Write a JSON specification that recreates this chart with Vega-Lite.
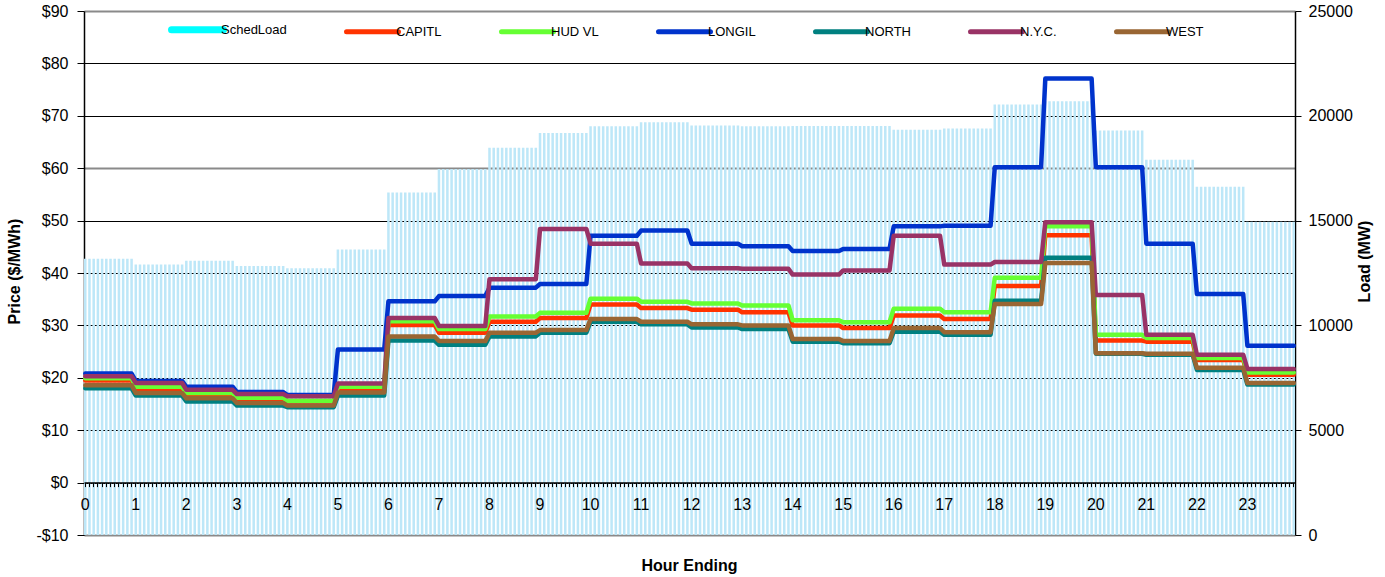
{
"$schema": "https://vega.github.io/schema/vega-lite/v6.json",
"width": 1211,
"height": 524,
"autosize": {"type": "none"},
"padding": {"left": 84, "top": 11, "right": 90, "bottom": 42},
"background": "white",
"config": {"font": "Liberation Sans", "view": {"stroke": null}},
"datasets": {
"load": [
{"t":0,"load":13180},{"t":1,"load":13180},{"t":2,"load":13180},{"t":3,"load":13180},{"t":4,"load":13180},{"t":5,"load":13180},{"t":6,"load":13180},{"t":7,"load":13180},{"t":8,"load":13180},{"t":9,"load":13180},{"t":10,"load":13180},{"t":11,"load":13180},
{"t":12,"load":12910},{"t":13,"load":12910},{"t":14,"load":12910},{"t":15,"load":12910},{"t":16,"load":12910},{"t":17,"load":12910},{"t":18,"load":12910},{"t":19,"load":12910},{"t":20,"load":12910},{"t":21,"load":12910},{"t":22,"load":12910},{"t":23,"load":12910},
{"t":24,"load":13080},{"t":25,"load":13080},{"t":26,"load":13080},{"t":27,"load":13080},{"t":28,"load":13080},{"t":29,"load":13080},{"t":30,"load":13080},{"t":31,"load":13080},{"t":32,"load":13080},{"t":33,"load":13080},{"t":34,"load":13080},{"t":35,"load":13080},
{"t":36,"load":12830},{"t":37,"load":12830},{"t":38,"load":12830},{"t":39,"load":12830},{"t":40,"load":12830},{"t":41,"load":12830},{"t":42,"load":12830},{"t":43,"load":12830},{"t":44,"load":12830},{"t":45,"load":12830},{"t":46,"load":12830},{"t":47,"load":12830},
{"t":48,"load":12730},{"t":49,"load":12730},{"t":50,"load":12730},{"t":51,"load":12730},{"t":52,"load":12730},{"t":53,"load":12730},{"t":54,"load":12730},{"t":55,"load":12730},{"t":56,"load":12730},{"t":57,"load":12730},{"t":58,"load":12730},{"t":59,"load":12730},
{"t":60,"load":13620},{"t":61,"load":13620},{"t":62,"load":13620},{"t":63,"load":13620},{"t":64,"load":13620},{"t":65,"load":13620},{"t":66,"load":13620},{"t":67,"load":13620},{"t":68,"load":13620},{"t":69,"load":13620},{"t":70,"load":13620},{"t":71,"load":13620},
{"t":72,"load":16345},{"t":73,"load":16345},{"t":74,"load":16345},{"t":75,"load":16345},{"t":76,"load":16345},{"t":77,"load":16345},{"t":78,"load":16345},{"t":79,"load":16345},{"t":80,"load":16345},{"t":81,"load":16345},{"t":82,"load":16345},{"t":83,"load":16345},
{"t":84,"load":17460},{"t":85,"load":17460},{"t":86,"load":17460},{"t":87,"load":17460},{"t":88,"load":17460},{"t":89,"load":17460},{"t":90,"load":17460},{"t":91,"load":17460},{"t":92,"load":17460},{"t":93,"load":17460},{"t":94,"load":17460},{"t":95,"load":17460},
{"t":96,"load":18480},{"t":97,"load":18480},{"t":98,"load":18480},{"t":99,"load":18480},{"t":100,"load":18480},{"t":101,"load":18480},{"t":102,"load":18480},{"t":103,"load":18480},{"t":104,"load":18480},{"t":105,"load":18480},{"t":106,"load":18480},{"t":107,"load":18480},
{"t":108,"load":19180},{"t":109,"load":19180},{"t":110,"load":19180},{"t":111,"load":19180},{"t":112,"load":19180},{"t":113,"load":19180},{"t":114,"load":19180},{"t":115,"load":19180},{"t":116,"load":19180},{"t":117,"load":19180},{"t":118,"load":19180},{"t":119,"load":19180},
{"t":120,"load":19500},{"t":121,"load":19500},{"t":122,"load":19500},{"t":123,"load":19500},{"t":124,"load":19500},{"t":125,"load":19500},{"t":126,"load":19500},{"t":127,"load":19500},{"t":128,"load":19500},{"t":129,"load":19500},{"t":130,"load":19500},{"t":131,"load":19500},
{"t":132,"load":19690},{"t":133,"load":19690},{"t":134,"load":19690},{"t":135,"load":19690},{"t":136,"load":19690},{"t":137,"load":19690},{"t":138,"load":19690},{"t":139,"load":19690},{"t":140,"load":19690},{"t":141,"load":19690},{"t":142,"load":19690},{"t":143,"load":19690},
{"t":144,"load":19540},{"t":145,"load":19540},{"t":146,"load":19540},{"t":147,"load":19540},{"t":148,"load":19540},{"t":149,"load":19540},{"t":150,"load":19540},{"t":151,"load":19540},{"t":152,"load":19540},{"t":153,"load":19540},{"t":154,"load":19540},{"t":155,"load":19540},
{"t":156,"load":19500},{"t":157,"load":19500},{"t":158,"load":19500},{"t":159,"load":19500},{"t":160,"load":19500},{"t":161,"load":19500},{"t":162,"load":19500},{"t":163,"load":19500},{"t":164,"load":19500},{"t":165,"load":19500},{"t":166,"load":19500},{"t":167,"load":19500},
{"t":168,"load":19510},{"t":169,"load":19510},{"t":170,"load":19510},{"t":171,"load":19510},{"t":172,"load":19510},{"t":173,"load":19510},{"t":174,"load":19510},{"t":175,"load":19510},{"t":176,"load":19510},{"t":177,"load":19510},{"t":178,"load":19510},{"t":179,"load":19510},
{"t":180,"load":19510},{"t":181,"load":19510},{"t":182,"load":19510},{"t":183,"load":19510},{"t":184,"load":19510},{"t":185,"load":19510},{"t":186,"load":19510},{"t":187,"load":19510},{"t":188,"load":19510},{"t":189,"load":19510},{"t":190,"load":19510},{"t":191,"load":19510},
{"t":192,"load":19340},{"t":193,"load":19340},{"t":194,"load":19340},{"t":195,"load":19340},{"t":196,"load":19340},{"t":197,"load":19340},{"t":198,"load":19340},{"t":199,"load":19340},{"t":200,"load":19340},{"t":201,"load":19340},{"t":202,"load":19340},{"t":203,"load":19340},
{"t":204,"load":19390},{"t":205,"load":19390},{"t":206,"load":19390},{"t":207,"load":19390},{"t":208,"load":19390},{"t":209,"load":19390},{"t":210,"load":19390},{"t":211,"load":19390},{"t":212,"load":19390},{"t":213,"load":19390},{"t":214,"load":19390},{"t":215,"load":19390},
{"t":216,"load":20540},{"t":217,"load":20540},{"t":218,"load":20540},{"t":219,"load":20540},{"t":220,"load":20540},{"t":221,"load":20540},{"t":222,"load":20540},{"t":223,"load":20540},{"t":224,"load":20540},{"t":225,"load":20540},{"t":226,"load":20540},{"t":227,"load":20540},
{"t":228,"load":20690},{"t":229,"load":20690},{"t":230,"load":20690},{"t":231,"load":20690},{"t":232,"load":20690},{"t":233,"load":20690},{"t":234,"load":20690},{"t":235,"load":20690},{"t":236,"load":20690},{"t":237,"load":20690},{"t":238,"load":20690},{"t":239,"load":20690},
{"t":240,"load":19300},{"t":241,"load":19300},{"t":242,"load":19300},{"t":243,"load":19300},{"t":244,"load":19300},{"t":245,"load":19300},{"t":246,"load":19300},{"t":247,"load":19300},{"t":248,"load":19300},{"t":249,"load":19300},{"t":250,"load":19300},{"t":251,"load":19300},
{"t":252,"load":17900},{"t":253,"load":17900},{"t":254,"load":17900},{"t":255,"load":17900},{"t":256,"load":17900},{"t":257,"load":17900},{"t":258,"load":17900},{"t":259,"load":17900},{"t":260,"load":17900},{"t":261,"load":17900},{"t":262,"load":17900},{"t":263,"load":17900},
{"t":264,"load":16620},{"t":265,"load":16620},{"t":266,"load":16620},{"t":267,"load":16620},{"t":268,"load":16620},{"t":269,"load":16620},{"t":270,"load":16620},{"t":271,"load":16620},{"t":272,"load":16620},{"t":273,"load":16620},{"t":274,"load":16620},{"t":275,"load":16620},
{"t":276,"load":14950},{"t":277,"load":14950},{"t":278,"load":14950},{"t":279,"load":14950},{"t":280,"load":14950},{"t":281,"load":14950},{"t":282,"load":14950},{"t":283,"load":14950},{"t":284,"load":14950},{"t":285,"load":14950},{"t":286,"load":14950},{"t":287,"load":14950}
],
"price": [
{"t":0,"zone":"CAPITL","price":19.5},{"t":11,"zone":"CAPITL","price":19.5},{"t":12,"zone":"CAPITL","price":17.9},{"t":23,"zone":"CAPITL","price":17.9},{"t":24,"zone":"CAPITL","price":16.7},{"t":35,"zone":"CAPITL","price":16.7},{"t":36,"zone":"CAPITL","price":15.8},{"t":47,"zone":"CAPITL","price":15.8},{"t":48,"zone":"CAPITL","price":15.5},{"t":59,"zone":"CAPITL","price":15.5},{"t":60,"zone":"CAPITL","price":17.9},{"t":71,"zone":"CAPITL","price":17.9},{"t":72,"zone":"CAPITL","price":30.1},{"t":83,"zone":"CAPITL","price":30.1},{"t":84,"zone":"CAPITL","price":28.6},{"t":95,"zone":"CAPITL","price":28.6},{"t":96,"zone":"CAPITL","price":30.7},{"t":107,"zone":"CAPITL","price":30.7},{"t":108,"zone":"CAPITL","price":31.4},{"t":119,"zone":"CAPITL","price":31.4},{"t":120,"zone":"CAPITL","price":34.0},{"t":131,"zone":"CAPITL","price":34.0},{"t":132,"zone":"CAPITL","price":33.3},{"t":143,"zone":"CAPITL","price":33.3},{"t":144,"zone":"CAPITL","price":33.0},{"t":155,"zone":"CAPITL","price":33.0},{"t":156,"zone":"CAPITL","price":32.5},{"t":167,"zone":"CAPITL","price":32.5},{"t":168,"zone":"CAPITL","price":30.0},{"t":179,"zone":"CAPITL","price":30.0},{"t":180,"zone":"CAPITL","price":29.5},{"t":191,"zone":"CAPITL","price":29.5},{"t":192,"zone":"CAPITL","price":31.9},{"t":203,"zone":"CAPITL","price":31.9},{"t":204,"zone":"CAPITL","price":31.2},{"t":215,"zone":"CAPITL","price":31.2},{"t":216,"zone":"CAPITL","price":37.5},{"t":227,"zone":"CAPITL","price":37.5},{"t":228,"zone":"CAPITL","price":47.2},{"t":239,"zone":"CAPITL","price":47.2},{"t":240,"zone":"CAPITL","price":27.1},{"t":251,"zone":"CAPITL","price":27.1},{"t":252,"zone":"CAPITL","price":26.9},{"t":263,"zone":"CAPITL","price":26.9},{"t":264,"zone":"CAPITL","price":23.4},{"t":275,"zone":"CAPITL","price":23.4},{"t":276,"zone":"CAPITL","price":20.6},{"t":287,"zone":"CAPITL","price":20.6},
{"t":0,"zone":"HUD VL","price":19.9},{"t":11,"zone":"HUD VL","price":19.9},{"t":12,"zone":"HUD VL","price":18.3},{"t":23,"zone":"HUD VL","price":18.3},{"t":24,"zone":"HUD VL","price":17.1},{"t":35,"zone":"HUD VL","price":17.1},{"t":36,"zone":"HUD VL","price":16.2},{"t":47,"zone":"HUD VL","price":16.2},{"t":48,"zone":"HUD VL","price":15.6},{"t":59,"zone":"HUD VL","price":15.6},{"t":60,"zone":"HUD VL","price":18.3},{"t":71,"zone":"HUD VL","price":18.3},{"t":72,"zone":"HUD VL","price":30.8},{"t":83,"zone":"HUD VL","price":30.8},{"t":84,"zone":"HUD VL","price":29.3},{"t":95,"zone":"HUD VL","price":29.3},{"t":96,"zone":"HUD VL","price":31.7},{"t":107,"zone":"HUD VL","price":31.7},{"t":108,"zone":"HUD VL","price":32.4},{"t":119,"zone":"HUD VL","price":32.4},{"t":120,"zone":"HUD VL","price":35.1},{"t":131,"zone":"HUD VL","price":35.1},{"t":132,"zone":"HUD VL","price":34.5},{"t":143,"zone":"HUD VL","price":34.5},{"t":144,"zone":"HUD VL","price":34.2},{"t":155,"zone":"HUD VL","price":34.2},{"t":156,"zone":"HUD VL","price":33.8},{"t":167,"zone":"HUD VL","price":33.8},{"t":168,"zone":"HUD VL","price":31.0},{"t":179,"zone":"HUD VL","price":31.0},{"t":180,"zone":"HUD VL","price":30.6},{"t":191,"zone":"HUD VL","price":30.6},{"t":192,"zone":"HUD VL","price":33.2},{"t":203,"zone":"HUD VL","price":33.2},{"t":204,"zone":"HUD VL","price":32.5},{"t":215,"zone":"HUD VL","price":32.5},{"t":216,"zone":"HUD VL","price":39.1},{"t":227,"zone":"HUD VL","price":39.1},{"t":228,"zone":"HUD VL","price":48.9},{"t":239,"zone":"HUD VL","price":48.9},{"t":240,"zone":"HUD VL","price":28.2},{"t":251,"zone":"HUD VL","price":28.2},{"t":252,"zone":"HUD VL","price":27.6},{"t":263,"zone":"HUD VL","price":27.6},{"t":264,"zone":"HUD VL","price":23.8},{"t":275,"zone":"HUD VL","price":23.8},{"t":276,"zone":"HUD VL","price":21.0},{"t":287,"zone":"HUD VL","price":21.0},
{"t":0,"zone":"LONGIL","price":20.8},{"t":11,"zone":"LONGIL","price":20.8},{"t":12,"zone":"LONGIL","price":19.4},{"t":23,"zone":"LONGIL","price":19.4},{"t":24,"zone":"LONGIL","price":18.3},{"t":35,"zone":"LONGIL","price":18.3},{"t":36,"zone":"LONGIL","price":17.3},{"t":47,"zone":"LONGIL","price":17.3},{"t":48,"zone":"LONGIL","price":16.7},{"t":59,"zone":"LONGIL","price":16.7},{"t":60,"zone":"LONGIL","price":25.4},{"t":71,"zone":"LONGIL","price":25.4},{"t":72,"zone":"LONGIL","price":34.6},{"t":83,"zone":"LONGIL","price":34.6},{"t":84,"zone":"LONGIL","price":35.6},{"t":95,"zone":"LONGIL","price":35.6},{"t":96,"zone":"LONGIL","price":37.2},{"t":107,"zone":"LONGIL","price":37.2},{"t":108,"zone":"LONGIL","price":37.9},{"t":119,"zone":"LONGIL","price":37.9},{"t":120,"zone":"LONGIL","price":47.1},{"t":131,"zone":"LONGIL","price":47.1},{"t":132,"zone":"LONGIL","price":48.1},{"t":143,"zone":"LONGIL","price":48.1},{"t":144,"zone":"LONGIL","price":45.6},{"t":155,"zone":"LONGIL","price":45.6},{"t":156,"zone":"LONGIL","price":45.1},{"t":167,"zone":"LONGIL","price":45.1},{"t":168,"zone":"LONGIL","price":44.2},{"t":179,"zone":"LONGIL","price":44.2},{"t":180,"zone":"LONGIL","price":44.6},{"t":191,"zone":"LONGIL","price":44.6},{"t":192,"zone":"LONGIL","price":48.9},{"t":203,"zone":"LONGIL","price":48.9},{"t":204,"zone":"LONGIL","price":49.0},{"t":215,"zone":"LONGIL","price":49.0},{"t":216,"zone":"LONGIL","price":60.2},{"t":227,"zone":"LONGIL","price":60.2},{"t":228,"zone":"LONGIL","price":77.1},{"t":239,"zone":"LONGIL","price":77.1},{"t":240,"zone":"LONGIL","price":60.2},{"t":251,"zone":"LONGIL","price":60.2},{"t":252,"zone":"LONGIL","price":45.6},{"t":263,"zone":"LONGIL","price":45.6},{"t":264,"zone":"LONGIL","price":36.0},{"t":275,"zone":"LONGIL","price":36.0},{"t":276,"zone":"LONGIL","price":26.1},{"t":287,"zone":"LONGIL","price":26.1},
{"t":0,"zone":"NORTH","price":18.0},{"t":11,"zone":"NORTH","price":18.0},{"t":12,"zone":"NORTH","price":16.6},{"t":23,"zone":"NORTH","price":16.6},{"t":24,"zone":"NORTH","price":15.5},{"t":35,"zone":"NORTH","price":15.5},{"t":36,"zone":"NORTH","price":14.7},{"t":47,"zone":"NORTH","price":14.7},{"t":48,"zone":"NORTH","price":14.4},{"t":59,"zone":"NORTH","price":14.4},{"t":60,"zone":"NORTH","price":16.6},{"t":71,"zone":"NORTH","price":16.6},{"t":72,"zone":"NORTH","price":27.1},{"t":83,"zone":"NORTH","price":27.1},{"t":84,"zone":"NORTH","price":26.3},{"t":95,"zone":"NORTH","price":26.3},{"t":96,"zone":"NORTH","price":27.9},{"t":107,"zone":"NORTH","price":27.9},{"t":108,"zone":"NORTH","price":28.6},{"t":119,"zone":"NORTH","price":28.6},{"t":120,"zone":"NORTH","price":30.7},{"t":131,"zone":"NORTH","price":30.7},{"t":132,"zone":"NORTH","price":30.2},{"t":143,"zone":"NORTH","price":30.2},{"t":144,"zone":"NORTH","price":29.6},{"t":155,"zone":"NORTH","price":29.6},{"t":156,"zone":"NORTH","price":29.3},{"t":167,"zone":"NORTH","price":29.3},{"t":168,"zone":"NORTH","price":26.9},{"t":179,"zone":"NORTH","price":26.9},{"t":180,"zone":"NORTH","price":26.6},{"t":191,"zone":"NORTH","price":26.6},{"t":192,"zone":"NORTH","price":28.8},{"t":203,"zone":"NORTH","price":28.8},{"t":204,"zone":"NORTH","price":28.2},{"t":215,"zone":"NORTH","price":28.2},{"t":216,"zone":"NORTH","price":34.7},{"t":227,"zone":"NORTH","price":34.7},{"t":228,"zone":"NORTH","price":42.9},{"t":239,"zone":"NORTH","price":42.9},{"t":240,"zone":"NORTH","price":24.6},{"t":251,"zone":"NORTH","price":24.6},{"t":252,"zone":"NORTH","price":24.4},{"t":263,"zone":"NORTH","price":24.4},{"t":264,"zone":"NORTH","price":21.5},{"t":275,"zone":"NORTH","price":21.5},{"t":276,"zone":"NORTH","price":18.7},{"t":287,"zone":"NORTH","price":18.7},
{"t":0,"zone":"N.Y.C.","price":20.3},{"t":11,"zone":"N.Y.C.","price":20.3},{"t":12,"zone":"N.Y.C.","price":19.0},{"t":23,"zone":"N.Y.C.","price":19.0},{"t":24,"zone":"N.Y.C.","price":17.7},{"t":35,"zone":"N.Y.C.","price":17.7},{"t":36,"zone":"N.Y.C.","price":16.9},{"t":47,"zone":"N.Y.C.","price":16.9},{"t":48,"zone":"N.Y.C.","price":16.5},{"t":59,"zone":"N.Y.C.","price":16.5},{"t":60,"zone":"N.Y.C.","price":18.9},{"t":71,"zone":"N.Y.C.","price":18.9},{"t":72,"zone":"N.Y.C.","price":31.4},{"t":83,"zone":"N.Y.C.","price":31.4},{"t":84,"zone":"N.Y.C.","price":29.9},{"t":95,"zone":"N.Y.C.","price":29.9},{"t":96,"zone":"N.Y.C.","price":38.8},{"t":107,"zone":"N.Y.C.","price":38.8},{"t":108,"zone":"N.Y.C.","price":48.4},{"t":119,"zone":"N.Y.C.","price":48.4},{"t":120,"zone":"N.Y.C.","price":45.6},{"t":131,"zone":"N.Y.C.","price":45.6},{"t":132,"zone":"N.Y.C.","price":41.8},{"t":143,"zone":"N.Y.C.","price":41.8},{"t":144,"zone":"N.Y.C.","price":40.9},{"t":155,"zone":"N.Y.C.","price":40.9},{"t":156,"zone":"N.Y.C.","price":40.8},{"t":167,"zone":"N.Y.C.","price":40.8},{"t":168,"zone":"N.Y.C.","price":39.7},{"t":179,"zone":"N.Y.C.","price":39.7},{"t":180,"zone":"N.Y.C.","price":40.5},{"t":191,"zone":"N.Y.C.","price":40.5},{"t":192,"zone":"N.Y.C.","price":47.1},{"t":203,"zone":"N.Y.C.","price":47.1},{"t":204,"zone":"N.Y.C.","price":41.6},{"t":215,"zone":"N.Y.C.","price":41.6},{"t":216,"zone":"N.Y.C.","price":42.1},{"t":227,"zone":"N.Y.C.","price":42.1},{"t":228,"zone":"N.Y.C.","price":49.7},{"t":239,"zone":"N.Y.C.","price":49.7},{"t":240,"zone":"N.Y.C.","price":35.8},{"t":251,"zone":"N.Y.C.","price":35.8},{"t":252,"zone":"N.Y.C.","price":28.2},{"t":263,"zone":"N.Y.C.","price":28.2},{"t":264,"zone":"N.Y.C.","price":24.4},{"t":275,"zone":"N.Y.C.","price":24.4},{"t":276,"zone":"N.Y.C.","price":21.7},{"t":287,"zone":"N.Y.C.","price":21.7},
{"t":0,"zone":"WEST","price":18.6},{"t":11,"zone":"WEST","price":18.6},{"t":12,"zone":"WEST","price":17.1},{"t":23,"zone":"WEST","price":17.1},{"t":24,"zone":"WEST","price":16.1},{"t":35,"zone":"WEST","price":16.1},{"t":36,"zone":"WEST","price":15.2},{"t":47,"zone":"WEST","price":15.2},{"t":48,"zone":"WEST","price":14.7},{"t":59,"zone":"WEST","price":14.7},{"t":60,"zone":"WEST","price":17.2},{"t":71,"zone":"WEST","price":17.2},{"t":72,"zone":"WEST","price":27.9},{"t":83,"zone":"WEST","price":27.9},{"t":84,"zone":"WEST","price":27.0},{"t":95,"zone":"WEST","price":27.0},{"t":96,"zone":"WEST","price":28.6},{"t":107,"zone":"WEST","price":28.6},{"t":108,"zone":"WEST","price":29.1},{"t":119,"zone":"WEST","price":29.1},{"t":120,"zone":"WEST","price":31.2},{"t":131,"zone":"WEST","price":31.2},{"t":132,"zone":"WEST","price":30.7},{"t":143,"zone":"WEST","price":30.7},{"t":144,"zone":"WEST","price":30.2},{"t":155,"zone":"WEST","price":30.2},{"t":156,"zone":"WEST","price":30.0},{"t":167,"zone":"WEST","price":30.0},{"t":168,"zone":"WEST","price":27.4},{"t":179,"zone":"WEST","price":27.4},{"t":180,"zone":"WEST","price":27.0},{"t":191,"zone":"WEST","price":27.0},{"t":192,"zone":"WEST","price":29.5},{"t":203,"zone":"WEST","price":29.5},{"t":204,"zone":"WEST","price":28.7},{"t":215,"zone":"WEST","price":28.7},{"t":216,"zone":"WEST","price":34.1},{"t":227,"zone":"WEST","price":34.1},{"t":228,"zone":"WEST","price":41.9},{"t":239,"zone":"WEST","price":41.9},{"t":240,"zone":"WEST","price":24.7},{"t":251,"zone":"WEST","price":24.7},{"t":252,"zone":"WEST","price":24.6},{"t":263,"zone":"WEST","price":24.6},{"t":264,"zone":"WEST","price":21.9},{"t":275,"zone":"WEST","price":21.9},{"t":276,"zone":"WEST","price":19.0},{"t":287,"zone":"WEST","price":19.0}
]
},
"layer": [
{
"data": {"name": "load"},
"mark": {"type": "bar", "fill": "#bde7f8", "strokeWidth": 0},
"encoding": {
"x": {"field": "t", "type": "ordinal",
"scale": {"paddingInner": 0.4, "paddingOuter": 0},
"axis": {"title": "Hour Ending", "titleFontSize": 16, "titleFontWeight": "bold", "titleColor": "black", "titleX": 605, "titleY": 83, "titleAlign": "center", "titleBaseline": "middle", "titleAnchor": "middle",
"offset": -52.4, "zindex": 1, "domainColor": "black", "domainWidth": 1.5, "tickColor": "black", "tickSize": 4, "tickWidth": 1,
"labelExpr": "datum.value % 12 === 0 ? '' + (datum.value / 12) : ''", "labelAngle": 0, "labelFontSize": 16, "labelColor": "black", "labelPadding": 10, "labelOverlap": false, "labelBound": false, "labelFlush": false, "grid": false}},
"y": {"field": "load", "type": "quantitative",
"scale": {"domain": [0, 25000], "nice": false, "zero": true},
"axis": {"orient": "right", "title": "Load (MW)", "titleFontSize": 16, "titleFontWeight": "bold", "titleColor": "black", "titleX": 69, "titleY": 250, "titleAngle": -90, "titleAlign": "center", "titleBaseline": "middle",
"values": [0, 5000, 10000, 15000, 20000, 25000], "format": "d", "labelFontSize": 16, "labelColor": "black", "labelPadding": 7, "tickSize": 6, "tickColor": "black", "domainColor": "black", "domainWidth": 1.5, "grid": false}}
}
},
{
"data": {"name": "price"},
"mark": {"type": "line", "strokeWidth": 4.5, "strokeJoin": "round", "strokeCap": "round"},
"encoding": {
"x": {"field": "t", "type": "ordinal"},
"y": {"field": "price", "type": "quantitative",
"scale": {"domain": [-10, 90], "nice": false, "zero": false},
"axis": {"orient": "left", "title": "Price ($/MWh)", "titleFontSize": 16, "titleFontWeight": "bold", "titleColor": "black", "titleX": -70, "titleY": 260, "titleAngle": -90, "titleAlign": "center", "titleBaseline": "middle",
"values": [-10, 0, 10, 20, 30, 40, 50, 60, 70, 80, 90],
"labelExpr": "datum.value < 0 ? '-$' + abs(datum.value) : '$' + datum.value",
"labelFontSize": 16, "labelColor": "black", "labelPadding": 9, "tickSize": 7, "tickColor": "black", "domainColor": "black", "domainWidth": 1.5,
"grid": true,
"gridColor": {"condition": {"test": "datum.value === 60 || datum.value === 90 || datum.value === -10", "value": "#8a8a8a"}, "value": "black"},
"gridWidth": {"condition": {"test": "datum.value === 60 || datum.value === 90 || datum.value === -10", "value": 2}, "value": 1},
"gridOpacity": 1}},
"color": {"field": "zone", "type": "nominal",
"scale": {"domain": ["SchedLoad", "CAPITL", "HUD VL", "LONGIL", "NORTH", "N.Y.C.", "WEST"], "range": ["#00FFFF", "#FF3300", "#66FF33", "#0033CC", "#008080", "#993366", "#996633"]},
"legend": {"orient": "none", "legendX": 107, "legendY": 12, "direction": "horizontal", "title": null, "symbolType": "stroke", "symbolSize": 2704, "symbolStrokeWidth": 5, "symbolOpacity": 1, "labelFontSize": 13, "labelColor": "black", "labelOffset": 17, "columnPadding": 49, "padding": 0,
"encode": {"symbols": {"update": {"strokeWidth": {"signal": "datum.value === 'SchedLoad' ? 7 : 5"}, "strokeCap": {"value": "round"}}}}}}
}
}
],
"resolve": {"scale": {"y": "independent"}, "axis": {"y": "independent"}}
}
